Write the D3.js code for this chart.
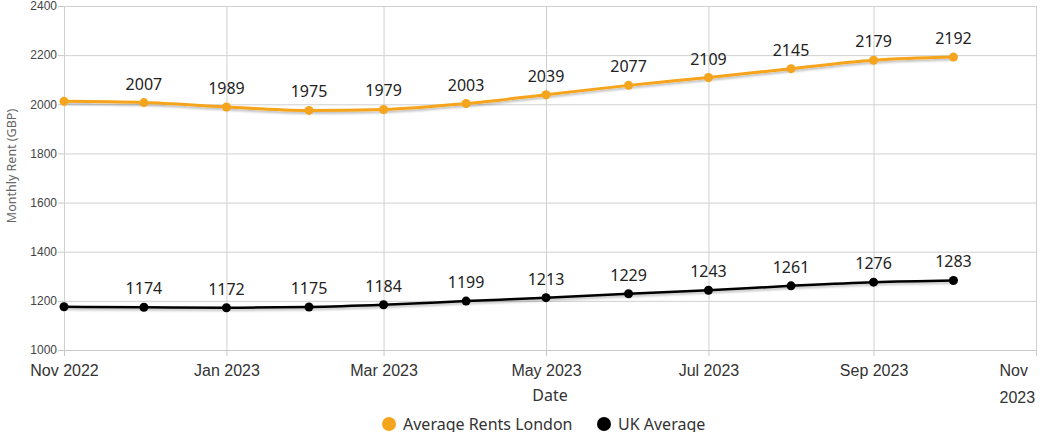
<!DOCTYPE html>
<html>
<head>
<meta charset="utf-8">
<script src="https://cdn.jsdelivr.net/npm/d3@7"></script>
<style>
  body { margin: 0; background: #fff; }
  svg { display: block; font-family: "Noto Sans", sans-serif; }
  .grid line { stroke: #d0d0d0; stroke-width: 1; }
  .grid path { display: none; }
  .axis path, .axis line { stroke: #c8c8c8; }
  .ylab text { font-size: 12px; fill: #444; }
  .xlab text { font-size: 16px; fill: #333; }
  .val { font-size: 16px; fill: #222; text-anchor: middle; }
</style>
</head>
<body>
<svg width="1044" height="432"></svg>
<script>
// 데이터
const months = ["2022-11-01", "2022-12-01", "2023-01-01", "2023-02-01", "2023-03-01", "2023-04-01",
  "2023-05-01", "2023-06-01", "2023-07-01", "2023-08-01", "2023-09-01", "2023-10-01"];
const london = [2012, 2007, 1989, 1975, 1979, 2003, 2039, 2077, 2109, 2145, 2179, 2192];
const ukAvg = [1176, 1174, 1172, 1175, 1184, 1199, 1213, 1229, 1243, 1261, 1276, 1283];
const yTicks = [1000, 1200, 1400, 1600, 1800, 2000, 2200, 2400];
const xTicks = ["2022-11-01", "2023-01-01", "2023-03-01", "2023-05-01", "2023-07-01", "2023-09-01", "2023-11-01"];
const seriesNames = ["Average Rents London", "UK Average"];
const colors = ["#f5a41d", "#000000"];

const parse = d3.timeParse("%Y-%m-%d");
const fmt = d3.timeFormat("%b %Y");

const svg = d3.select("svg");
const mL = 64, mR = 1036, mT = 6, mB = 350;

const x = d3.scaleTime()
  .domain([parse("2022-11-01"), parse("2023-11-01")])
  .range([mL, mR]);
const y = d3.scaleLinear().domain([1000, 2400]).range([mB, mT]);

// 그림자 필터
const defs = svg.append("defs");
const f = defs.append("filter").attr("id", "shadow")
  .attr("x", "-5%").attr("y", "-50%").attr("width", "110%").attr("height", "200%");
f.append("feDropShadow").attr("dx", 0).attr("dy", 2).attr("stdDeviation", 1)
  .attr("flood-color", "#000").attr("flood-opacity", 0.25);

// 그리드
svg.append("g").attr("class", "grid")
  .attr("transform", `translate(${mL},0)`)
  .call(d3.axisLeft(y).tickValues(yTicks).tickSize(-(mR - mL)).tickFormat(""));
svg.append("g").attr("class", "grid")
  .attr("transform", `translate(0,${mB})`)
  .call(d3.axisBottom(x).tickValues(xTicks.map(parse)).tickSize(-(mB - mT)).tickFormat(""));

// y축
const ya = svg.append("g").attr("class", "axis ylab")
  .attr("transform", `translate(${mL},0)`)
  .call(d3.axisLeft(y).tickValues(yTicks).tickSize(6).tickPadding(1).tickFormat(d3.format("d")));
ya.select(".domain").remove();

// x축
const xa = svg.append("g").attr("class", "axis xlab")
  .attr("transform", `translate(0,${mB})`)
  .call(d3.axisBottom(x).tickValues(xTicks.map(parse)).tickSize(6).tickSizeOuter(0).tickPadding(6).tickFormat(fmt));
xa.select(".domain").attr("stroke", "#c8c8c8");
xa.selectAll(".tick text").attr("dy", "0.9em");
// 마지막 라벨 두 줄
const lastLabel = fmt(parse(xTicks[xTicks.length - 1])).split(" ");
const lastT = xa.selectAll(".tick").filter((d, i, n) => i === n.length - 1).select("text");
lastT.text(null).attr("text-anchor", "start");
lastT.append("tspan").attr("x", -37).text(lastLabel[0]);
lastT.append("tspan").attr("x", -37).attr("dy", "1.65em").text(lastLabel[1]);

// 축 제목
svg.append("text")
  .attr("transform", `translate(16,166) rotate(-90)`)
  .attr("text-anchor", "middle")
  .attr("font-size", 12.5).attr("fill", "#666")
  .text("Monthly Rent (GBP)");
svg.append("text")
  .attr("x", (mL + mR) / 2).attr("y", 401)
  .attr("text-anchor", "middle")
  .attr("font-size", 16).attr("fill", "#333")
  .text("Date");

// 시리즈
const dates = months.map(parse);
const line = d3.line().x(d => x(d.date)).y(d => y(d.v)).curve(d3.curveMonotoneX);

[london, ukAvg].forEach((vals, si) => {
  const pts = vals.map((v, i) => ({ date: dates[i], v, i }));
  const g = svg.append("g");
  g.append("path")
    .datum(pts)
    .attr("d", line)
    .attr("fill", "none")
    .attr("stroke", colors[si])
    .attr("stroke-width", si === 0 ? 3 : 2.5)
    .attr("filter", "url(#shadow)");
  g.selectAll("circle").data(pts).join("circle")
    .attr("cx", d => x(d.date))
    .attr("cy", d => y(d.v))
    .attr("r", 4.5)
    .attr("fill", colors[si]);
  g.selectAll("text").data(pts.filter(d => d.i > 0)).join("text")
    .attr("class", "val")
    .attr("x", d => x(d.date))
    .attr("y", d => y(d.v) - 13)
    .text(d => d.v);
});

// 범례
const lg = svg.append("g");
const legX = [389, 604];
seriesNames.forEach((n, i) => {
  lg.append("circle").attr("cx", legX[i]).attr("cy", 424).attr("r", 7).attr("fill", colors[i]);
  lg.append("text").attr("x", legX[i] + 14).attr("y", 430)
    .attr("font-size", 16).attr("fill", "#333").text(n);
});
</script>
</body>
</html>
